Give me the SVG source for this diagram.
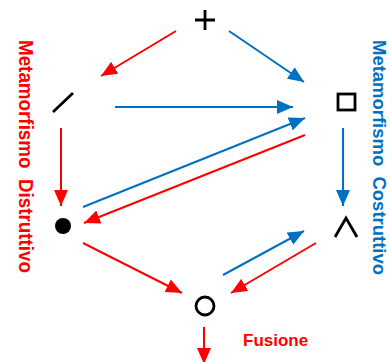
<svg xmlns="http://www.w3.org/2000/svg" width="390" height="362" viewBox="0 0 390 362">
<defs>
<marker id="ar" markerUnits="userSpaceOnUse" markerWidth="16" markerHeight="14" refX="16" refY="7" orient="auto" viewBox="0 0 16 14"><path d="M0,0 L16,7 L0,14 z" fill="#FF0000"/></marker>
<marker id="ab" markerUnits="userSpaceOnUse" markerWidth="16" markerHeight="14" refX="16" refY="7" orient="auto" viewBox="0 0 16 14"><path d="M0,0 L16,7 L0,14 z" fill="#0070C0"/></marker>
</defs>
<style>
.r{stroke:#FF0000;stroke-width:2;fill:none;marker-end:url(#ar)}
.b{stroke:#0070C0;stroke-width:2;fill:none;marker-end:url(#ab)}
.k{stroke:#000;fill:none;stroke-width:2.8}
.t{font-family:"Comic Sans MS","Liberation Sans",sans-serif;font-weight:bold}
</style>
<rect width="390" height="362" fill="#fff"/>
<g id="plus"><path class="k" d="M195,20 H215 M205,10 V30"/></g>
<g id="slash"><path class="k" d="M53,112 L73,93"/></g>
<g id="square"><rect class="k" x="338" y="94" width="17" height="16"/></g>
<g id="dot"><circle cx="63" cy="226" r="8" fill="#000"/></g>
<g id="chevron"><path class="k" d="M335,237 L346,218 L357,237"/></g>
<g id="circle"><circle class="k" cx="205" cy="306" r="9" stroke-width="3"/></g>
<g id="connectors">
<line class="r" x1="176" y1="31" x2="101" y2="76"/>
<line class="b" x1="229" y1="31" x2="304" y2="82"/>
<line class="b" x1="115" y1="107" x2="293" y2="107"/>
<line class="r" x1="61" y1="128" x2="61" y2="206"/>
<line class="b" x1="83" y1="207" x2="305" y2="118"/>
<line class="r" x1="305" y1="135" x2="84" y2="223"/>
<line class="b" x1="343" y1="128" x2="343" y2="206"/>
<line class="r" x1="83" y1="243" x2="182" y2="293"/>
<line class="b" x1="223" y1="275" x2="304" y2="231"/>
<line class="r" x1="316" y1="243" x2="231" y2="293"/>
<line class="r" x1="204" y1="327" x2="204" y2="364"/>
</g>
<g id="labels">
<text class="t" x="243" y="346" font-size="17" fill="#FF0000">Fusione</text>
<text class="t" transform="translate(19,40) rotate(90)" font-size="20" fill="#FF0000" textLength="233" lengthAdjust="spacingAndGlyphs" xml:space="preserve">Metamorfismo  Distruttivo</text>
<text class="t" transform="translate(373,40) rotate(90)" font-size="18" fill="#0070C0" textLength="235" lengthAdjust="spacingAndGlyphs" xml:space="preserve">Metamorfismo  Costruttivo</text>
</g>
</svg>
